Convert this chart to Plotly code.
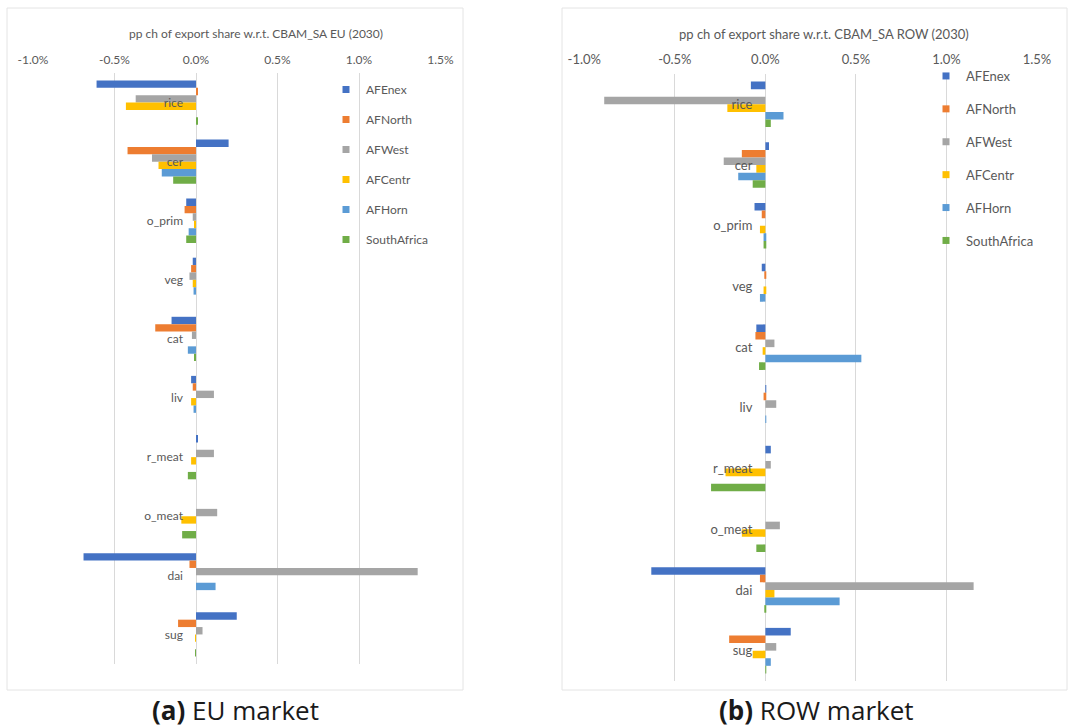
import plotly.graph_objects as go

# Commodity groups (top to bottom) and exporting regions
categories = ["rice", "cer", "o_prim", "veg", "cat", "liv", "r_meat", "o_meat", "dai", "sug"]
regions = ["AFEnex", "AFNorth", "AFWest", "AFCentr", "AFHorn", "SouthAfrica"]
colors = ["#4472C4", "#ED7D31", "#A5A5A5", "#FFC000", "#5B9BD5", "#70AD47"]

# Percentage-point change of export share w.r.t. CBAM_SA, EU market (2030)
eu_AFEnex = [-0.61, 0.20, -0.06, -0.02, -0.15, -0.03, 0.01, 0.0, -0.69, 0.25]
eu_AFNorth = [0.01, -0.42, -0.07, -0.03, -0.25, -0.02, 0.0, 0.0, -0.04, -0.11]
eu_AFWest = [-0.37, -0.27, -0.02, -0.04, -0.025, 0.11, 0.11, 0.13, 1.36, 0.04]
eu_AFCentr = [-0.43, -0.23, -0.01, -0.02, 0.0, -0.03, -0.03, -0.09, 0.0, -0.005]
eu_AFHorn = [0.0, -0.21, -0.045, -0.015, -0.05, -0.015, 0.0, 0.0, 0.12, 0.0]
eu_SouthAfrica = [0.01, -0.14, -0.06, 0.0, -0.012, 0.0, -0.05, -0.085, 0.0, -0.003]

# Same indicator, rest-of-world market (2030)
row_AFEnex = [-0.08, 0.02, -0.06, -0.02, -0.05, 0.005, 0.03, 0.0, -0.63, 0.14]
row_AFNorth = [0.0, -0.13, -0.02, -0.005, -0.055, -0.01, 0.0, 0.0, -0.03, -0.20]
row_AFWest = [-0.89, -0.23, 0.0, 0.0, 0.05, 0.06, 0.03, 0.08, 1.15, 0.06]
row_AFCentr = [-0.21, -0.05, -0.03, -0.01, -0.015, 0.0, -0.22, -0.13, 0.05, -0.07]
row_AFHorn = [0.10, -0.15, -0.01, -0.03, 0.53, 0.005, 0.0, 0.0, 0.41, 0.03]
row_SouthAfrica = [0.03, -0.07, -0.01, 0.0, -0.035, 0.0, -0.30, -0.05, -0.003, 0.005]

tick_vals = [-1.0, -0.5, 0.0, 0.5, 1.0, 1.5]
tick_text = ["-1.0%", "-0.5%", "0.0%", "0.5%", "1.0%", "1.5%"]

eu_series = [eu_AFEnex, eu_AFNorth, eu_AFWest, eu_AFCentr, eu_AFHorn, eu_SouthAfrica]
row_series = [row_AFEnex, row_AFNorth, row_AFWest, row_AFCentr, row_AFHorn, row_SouthAfrica]

W, H = 1068, 727
FONT = "Lato"
GREY = "#595959"
GRID = "#D9D9D9"


def px(x):
    return x / W


def py(y):
    return 1 - y / H


# Plot-area geometry of the two panels (pixels)
L_X0, L_X1, L_Y0, L_Y1 = 33, 440.5, 73, 664
R_X0, R_X1, R_Y0, R_Y1 = 584.3, 1037, 74, 681
XMIN, XMAX = -1.0, 1.5

fig = go.Figure()

for name, col, eu, rw in zip(regions, colors, eu_series, row_series):
    fig.add_trace(go.Bar(y=categories, x=eu, orientation="h", name=name,
                         marker=dict(color=col, line=dict(width=0)),
                         xaxis="x", yaxis="y", showlegend=False))
    fig.add_trace(go.Bar(y=categories, x=rw, orientation="h", name=name,
                         marker=dict(color=col, line=dict(width=0)),
                         xaxis="x2", yaxis="y2", showlegend=False))

# Legend entries with small square keys, one legend per panel
for name, col in zip(regions, colors):
    fig.add_trace(go.Scatter(x=[None], y=[None], mode="markers", name=name,
                             marker=dict(symbol="square", size=7, color=col),
                             xaxis="x", yaxis="y", legend="legend",
                             legendgroup="eu" + name))
    fig.add_trace(go.Scatter(x=[None], y=[None], mode="markers", name=name,
                             marker=dict(symbol="square", size=7, color=col),
                             xaxis="x2", yaxis="y2", legend="legend2",
                             legendgroup="row" + name))


def xaxis_cfg(x0, x1, size):
    return dict(domain=[px(x0), px(x1)], range=[XMIN, XMAX], side="top",
                tickvals=tick_vals, ticktext=tick_text, showgrid=True,
                gridcolor=GRID, gridwidth=1, zeroline=False, showline=False,
                ticks="", ticklabelstandoff=6, automargin=False,
                tickfont=dict(family=FONT, size=size, color=GREY),
                fixedrange=True)


def yaxis_cfg(x0, x1, y0, y1, size):
    # vertical axis sits on the zero line, labels just left of it
    zero_pos = px(x0) + (0 - XMIN) / (XMAX - XMIN) * (px(x1) - px(x0))
    return dict(domain=[py(y1), py(y0)], type="category",
                categoryorder="array", categoryarray=categories,
                autorange="reversed", anchor="free", position=zero_pos,
                showgrid=False, zeroline=False, automargin=False,
                showline=False, ticks="", ticklabelstandoff=13,
                tickfont=dict(family=FONT, size=size, color=GREY),
                fixedrange=True)


fig.update_layout(
    width=W, height=H,
    margin=dict(l=0, r=0, t=0, b=0, autoexpand=False),
    paper_bgcolor="white", plot_bgcolor="rgba(0,0,0,0)",
    barmode="group", bargap=0.25, bargroupgap=0.0,
    font=dict(family=FONT, color=GREY),
    xaxis=dict(xaxis_cfg(L_X0, L_X1, 12), anchor="y"),
    yaxis=yaxis_cfg(L_X0, L_X1, L_Y0, L_Y1, 12),
    xaxis2=dict(xaxis_cfg(R_X0, R_X1, 13), anchor="y2"),
    yaxis2=yaxis_cfg(R_X0, R_X1, R_Y0, R_Y1, 13),
    legend=dict(x=px(326), y=py(75), xanchor="left", yanchor="top",
                bgcolor="rgba(0,0,0,0)", tracegroupgap=11,
                font=dict(family=FONT, size=12, color=GREY)),
    legend2=dict(x=px(926), y=py(61), xanchor="left", yanchor="top",
                 bgcolor="rgba(0,0,0,0)", tracegroupgap=13,
                 font=dict(family=FONT, size=13, color=GREY)),
    showlegend=True,
)

# Light chart-area frames around each panel
for x0, x1 in [(7, 463), (562, 1067)]:
    fig.add_shape(type="rect", xref="paper", yref="paper",
                  x0=px(x0), x1=px(x1), y0=py(690), y1=py(8),
                  line=dict(color="#E4E4E4", width=1), fillcolor="rgba(0,0,0,0)",
                  layer="below")

# Axis titles
fig.add_annotation(text="pp ch of export share w.r.t. CBAM_SA EU (2030)",
                   xref="paper", yref="paper", x=px(256), y=py(34),
                   showarrow=False, xanchor="center", yanchor="middle",
                   font=dict(family=FONT, size=12, color=GREY))
fig.add_annotation(text="pp ch of export share w.r.t. CBAM_SA ROW (2030)",
                   xref="paper", yref="paper", x=px(824), y=py(34),
                   showarrow=False, xanchor="center", yanchor="middle",
                   font=dict(family=FONT, size=13, color=GREY))

# Panel captions
fig.add_annotation(text="<b>(a)</b> EU market", xref="paper", yref="paper",
                   x=px(235), y=py(710), showarrow=False,
                   xanchor="center", yanchor="middle",
                   font=dict(family="Open Sans", size=26, color="#1a1a1a"))
fig.add_annotation(text="<b>(b)</b> ROW market", xref="paper", yref="paper",
                   x=px(816), y=py(710), showarrow=False,
                   xanchor="center", yanchor="middle",
                   font=dict(family="Open Sans", size=26, color="#1a1a1a"))

fig.write_html("out.html")
